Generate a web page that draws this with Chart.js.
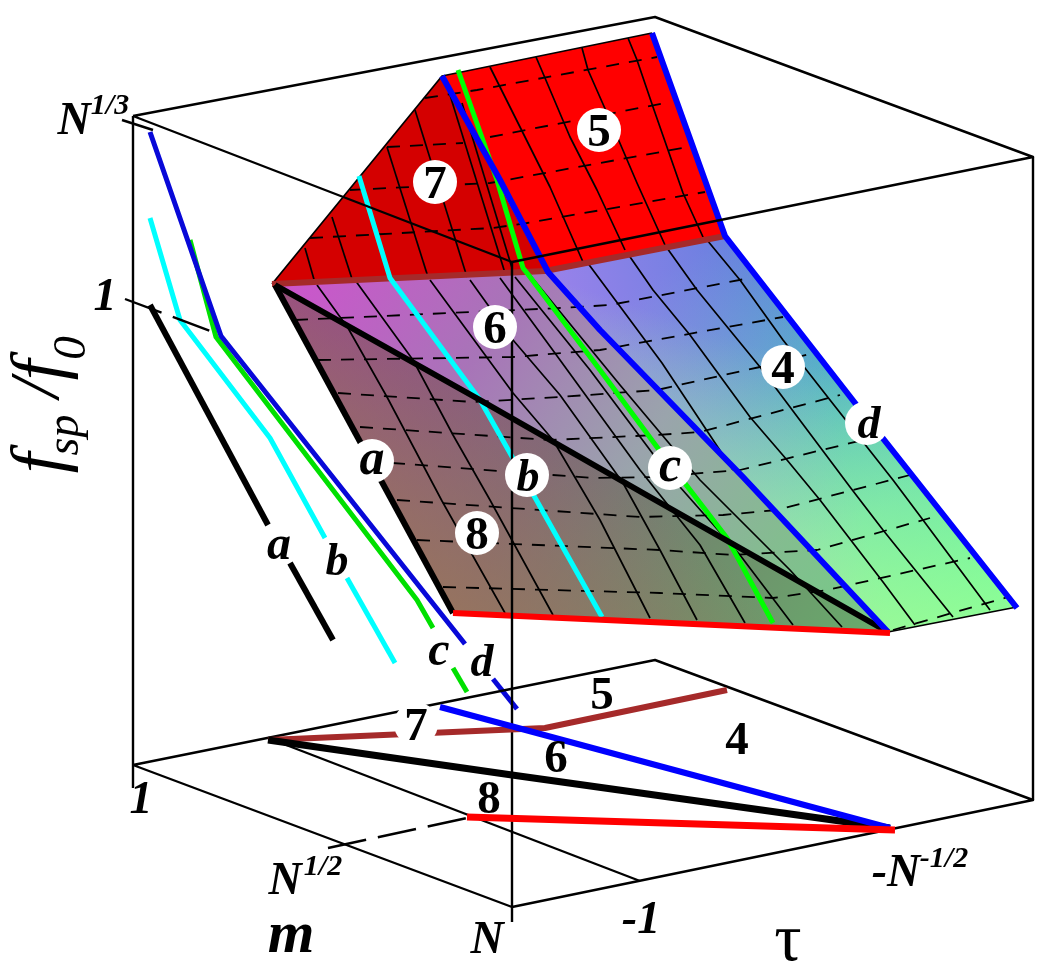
<!DOCTYPE html>
<html><head><meta charset="utf-8">
<style>html,body{margin:0;padding:0;background:#fff}canvas{display:block}</style>
<script src="https://cdn.jsdelivr.net/npm/chart.js@4"></script></head>
<body><canvas id="c" width="1050" height="974"></canvas>
<script>
// Surface outlines, in chart units
const region7=[[272,284],[442,76],[545,271],[272,284]];
const region5=[[442,76],[652,33],[725,236],[545,271],[442,76]];
const region4=[[545,271],[725,236],[1017,607],[888,632],[545,271]];
const region6=[[272,284],[545,271],[600,330],[743,477],[888,632],[272,284]];
const region8=[[272,284],[888,632],[453,613],[272,284]];
// Constant-tau solid grid lines
const solidGrid=[
 [[490,67],[500,87],[523,133],[550,187],[583,262]],
 [[536,57],[545,78],[570,137],[597,190],[625,250]],
 [[582,48],[588,70],[610,120],[637,183],[665,245]],
 [[628,38],[637,60],[653,107],[683,193],[703,237]],
 [[415,110],[467,277]],[[387,147],[428,277]],[[332,217],[353,282]],[[305,248],[315,283]],
 [[450,95],[505,273]],[[462,103],[512,268]],
 [[317,285],[348,328],[387,397],[442,501],[505,613]],
 [[355,280],[413,360],[453,435],[490,500],[553,615]],
 [[430,280],[513,393],[553,440],[600,520],[650,618]],
 [[470,280],[513,340],[560,395],[623,483],[660,550],[697,620]],
 [[500,278],[560,360],[640,470],[700,545],[745,623]],
 [[515,277],[590,370],[665,470],[740,555],[793,625]],
 [[530,275],[620,385],[700,480],[790,570],[842,627]],
 [[587,262],[662,363],[733,470]],
 [[628,254],[653,290],[690,335],[750,417],[787,460],[820,500],[883,582],[915,625]],
 [[667,248],[697,290],[760,367],[790,407],[850,487],[883,530],[953,617]],
 [[707,240],[740,280],[783,340],[830,400],[893,480],[923,520],[990,610]]
];
// Constant-m dashed grid lines
const dashedGrid=[
 [[425,98],[477,90],[657,57]],
 [[387,147],[463,143]],[[490,137],[665,103]],
 [[350,190],[490,183],[688,147]],
 [[310,238],[493,228],[527,223],[705,192]],
 [[295,320],[560,308],[610,305],[750,278]],
 [[318,360],[513,357],[600,350],[783,317]],
 [[338,393],[473,402],[560,397],[657,390],[760,367],[813,353]],
 [[360,427],[550,440],[657,435],[700,432],[840,395]],
 [[392,463],[593,478],[653,477],[740,470],[863,440]],
 [[397,500],[640,517],[723,515],[777,510],[910,475]],
 [[417,540],[660,550],[733,555],[817,550],[930,518]],
 [[443,587],[660,593],[773,598],[827,590],[970,558]],
 [[893,630],[1008,597]]
];
const tickDashed=[[[328,848],[467,818]],[[125,299],[213,332]]];
// Curves on the surface
const surfaceBlueInner=[[442,76],[500,180],[548,272],[600,330],[743,477],[888,632]];
const surfaceBlueOuter=[[652,33],[725,236],[855,403],[1017,608]];
const surfaceGreen=[[458,70],[497,180],[523,268],[527,273],[600,370],[657,447],[727,538],[773,623]];
const surfaceCyan=[[359,176],[390,278],[480,400],[510,453],[602,617]];
const surfaceBlackA=[[275,285],[453,613]];
const surfaceBlackDiag=[[275,285],[480,400],[650,497],[888,632]];
const surfaceRed=[[453,613],[890,633]];
const ridgeBrown=[[272,284],[545,271],[725,236]];
// Side projection
const sideBlackA1=[[150,305],[268,525]];
const sideBlackA2=[[290,563],[333,640]];
const sideCyan1=[[150,218],[180,320],[270,438],[325,538]];
const sideCyan2=[[347,578],[395,663]];
const sideGreen1=[[190,240],[216,337],[417,600],[433,628]];
const sideGreen2=[[453,668],[467,692]];
const sideBlue1=[[150,132],[221,336],[465,644]];
const sideBlue2=[[493,679],[517,709]];
// Floor projection
const floorBrown=[[268,740],[545,728],[727,690]];
const floorBlack=[[268,740],[512,775],[890,828]];
const floorBlue=[[440,707],[890,828]];
const floorRed=[[467,817],[895,830]];
// Box
const boxLines=[
 [[133,116],[655,17],[1033,157],[512,262],[133,116]],
 [[133,788],[133,116]],[[512,922],[512,262]],[[1033,800],[1033,157]],
 [[133,765],[512,907],[1033,800],[655,660],[133,765]],
 [[268,738],[640,881]],[[122,120],[153,130]]
];
const surfaceEdges=[[[272,284],[442,76],[652,33]],[[888,632],[1017,607]]];
// Labels in white discs
const discX=[599,435,495,783,867,670,372,527,477,416];
const discY=[130,182,327,367,423,468,461,475,533,724];
// Text
const texts=['5','7','6','4','d','c','a','b','8','a','b','c','d','7','5','4','6','8',
 'N','1/3','1','1','N','1/2','N','m','τ','-1','-N','-1/2'];
const textX=[599,435,495,783,869,670,372,528,477,279,337,439,482,416,602,737,556,489,
 74,110,105,141,285,323,487,291,788,641,896,944];
const textY=[134,186,331,371,426,468,461,479,537,547,563,653,664,728,697,742,760,801,
 122,106,298,801,882,867,941,936,942,921,874,859];
const textSize=[47,47,47,47,46,50,50,46,47,48,46,48,46,47,47,47,47,47,
 46,30,46,46,46,30,46,60,68,46,46,30];
const textStyle=['b','b','b','b','bi','bi','bi','bi','b','bi','bi','bi','bi','b','b','b','b','b',
 'bi','bi','bi','bi','bi','bi','bi','bi','r','bi','bi','bi'];
// Rotated axis title
const titleParts=['f','sp','/','f','0'];
const titleY=[463,435,388,370,348];
const titleSize=[74,46,70,74,47];
const titleX=[43,66,40,43,73];

const pts=a=>a.map(p=>({x:p[0],y:p[1]}));
const safe=(s,v)=>{const p=s?s.getPixelForValue(v):NaN;return Number.isFinite(p)?p:v;};
function grad(from,to,stops){
 return ctx=>{
  const ch=ctx.chart,sx=ch.scales.x,sy=ch.scales.y;
  const g=ch.ctx.createLinearGradient(safe(sx,from[0]),safe(sy,from[1]),safe(sx,to[0]),safe(sy,to[1]));
  stops.forEach(s=>g.addColorStop(s[0],s[1]));
  return g;
 };
}
const layers=[];
function area(poly,bg){layers.push({data:pts(poly),showLine:true,fill:'shape',backgroundColor:bg,borderWidth:0,borderColor:'rgba(0,0,0,0)',pointRadius:0,tension:0});}
function line(poly,color,w,dash){layers.push({data:pts(poly),showLine:true,fill:false,borderColor:color,borderWidth:w,borderDash:dash||[],pointRadius:0,tension:0,borderCapStyle:'butt',borderJoinStyle:'round'});}

area(region7,'#d40000');
area(region5,'#ff0000');
area(region4,grad([725,236],[950,625],[[0,'#5a80dc'],[0.35,'#58b0c8'],[0.7,'#68e0b0'],[1,'#68ff98']]));
area(region4,grad([560,300],[790,240],[[0,'rgba(178,130,240,0.7)'],[1,'rgba(178,130,240,0)']]));
area(region4,grad([850,610],[920,400],[[0,'rgba(170,250,150,0.7)'],[1,'rgba(170,250,150,0)']]));
area(region6,grad([300,270],[840,620],[[0,'#cc55cc'],[0.3,'#a874b8'],[0.6,'#9aa4ac'],[0.85,'#84bc90'],[1,'#78c888']]));
area(region8,grad([280,290],[880,630],[[0,'#9a3e92'],[0.45,'#80687a'],[0.75,'#6f8f6c'],[1,'#68ac6c']]));
area(region8,grad([450,620],[600,450],[[0,'rgba(155,118,90,0.85)'],[1,'rgba(155,118,90,0)']]));
solidGrid.forEach(l=>line(l,'#000',1.7));
dashedGrid.forEach(l=>line(l,'#000',1.8,[13,10]));
surfaceEdges.forEach(l=>line(l,'#000',1.7));
line(ridgeBrown,'#a52a2a',6);
line(surfaceCyan,'#00ffff',5);
line(surfaceGreen,'#00ff00',5);
line(surfaceBlackA,'#000',6);
line(surfaceBlackDiag,'#000',6);
line(surfaceBlueInner,'#0000ff',6);
line(surfaceBlueOuter,'#0000ff',6);
line(surfaceRed,'#ff0000',6);
[sideBlackA1,sideBlackA2].forEach(l=>line(l,'#000',6));
[sideCyan1,sideCyan2].forEach(l=>line(l,'#00ffff',5));
[sideGreen1,sideGreen2].forEach(l=>line(l,'#00e000',5));
[sideBlue1,sideBlue2].forEach(l=>line(l,'#0808d8',5));
boxLines.forEach(l=>line(l,'#000',2.4));
tickDashed.forEach(l=>line(l,'#000',2.4,[39,12]));
line(floorBrown,'#a52a2a',6);
line(floorBlack,'#000',7);
line(floorBlue,'#0000ff',6);
line(floorRed,'#ff0000',7);
layers.push({data:discX.map((x,i)=>({x,y:discY[i]})),showLine:false,pointRadius:22,pointBackgroundColor:'#fff',pointBorderWidth:0});

const family='"Liberation Serif"';
const labelPlugin={id:'labels',afterDatasetsDraw(ch){
 const c=ch.ctx,sx=ch.scales.x,sy=ch.scales.y;
 c.save();c.fillStyle='#000';c.textAlign='center';c.textBaseline='middle';
 texts.forEach((t,i)=>{
  const st={b:'bold ',bi:'italic bold ',i:'italic ',r:''}[textStyle[i]];
  c.font=st+textSize[i]+'px '+family;
  c.fillText(t,sx.getPixelForValue(textX[i]),sy.getPixelForValue(textY[i]));
 });
 titleParts.forEach((t,i)=>{
  c.save();
  c.translate(sx.getPixelForValue(titleX[i]),sy.getPixelForValue(titleY[i]));
  c.rotate(-Math.PI/2);
  c.font='italic '+titleSize[i]+'px '+family;
  c.fillText(t,0,0);
  c.restore();
 });
 c.restore();
}};

new Chart(document.getElementById('c'),{
 type:'scatter',
 data:{datasets:layers.slice().reverse()},
 options:{responsive:false,animation:false,events:[],
  layout:{padding:0,autoPadding:false},
  plugins:{legend:{display:false},tooltip:{enabled:false},title:{display:false}},
  scales:{
   x:{type:'linear',min:0,max:1050,display:false},
   y:{type:'linear',min:0,max:974,reverse:true,display:false}
  }},
 plugins:[labelPlugin]
});
</script></body></html>
